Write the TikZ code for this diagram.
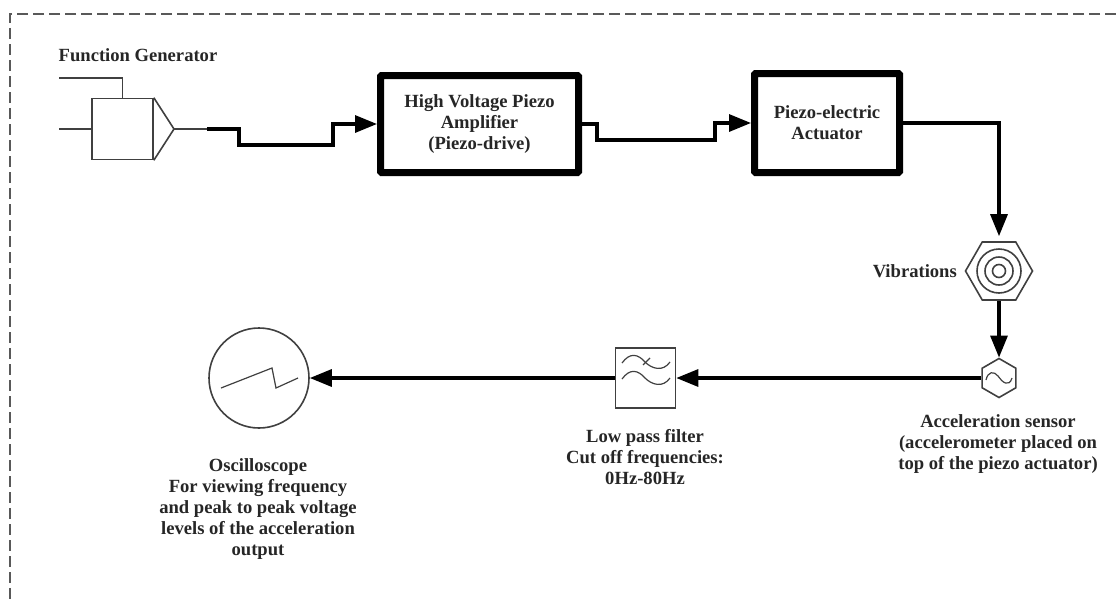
\documentclass[tikz,border=0pt]{standalone}
\usepackage{fontspec}
\setmainfont{Liberation Serif}
\usepackage{tikz}
\usetikzlibrary{arrows.meta,shapes.geometric}

\tikzset{
    thinline/.style={draw=black!75,line width=1.6pt},
    fineline/.style={draw=black!75,line width=1.2pt},
    labeltext/.style={align=center,inner sep=0pt,font=\fontsize{18.6pt}{21pt}\selectfont\bfseries,text=black!85},
    heavybox/.style={labeltext,draw=black,line width=7pt,rounded corners=1pt},
    signal/.style={draw=black,line width=3.2pt,-{Triangle[length=22pt,width=17pt]}}
}

\begin{document}
\begin{tikzpicture}[x=1pt,y=-1pt]
    \useasboundingbox (0,0) rectangle (1116,603);
    \draw[draw=black!65,line width=1.4pt,dash pattern=on 11pt off 5pt] (1116,14) -- (10,14) -- (10,603);
    % function generator
    \node[thinline,minimum size=61pt,inner sep=0pt] (gen) at (122.5,129) {};
    \coordinate (gentip) at (174,129);
    \coordinate (genin) at (59,129);
    \coordinate (genctl) at (59,78);
    \coordinate (genout) at (207,129);
    \draw[thinline] (gen.north east) -- (gentip) -- (gen.south east);
    \draw[thinline] (genin) -- (gen.west);
    \draw[thinline] (genctl) -| (gen.north);
    \draw[thinline] (gentip) -- (genout);
    \node[labeltext] (genlabel) at (138,55) {Function Generator};
    % boxes
    \node[heavybox,minimum width=198pt,minimum height=97pt] (amp) at (479.5,124) {High Voltage Piezo\\Amplifier\\(Piezo-drive)};
    \node[heavybox,minimum width=145pt,minimum height=99pt] (act) at (827,123) {Piezo-electric\\Actuator};
    % vibrations and sensor
    \node[thinline,regular polygon,regular polygon sides=6,minimum size=67pt,inner sep=0pt] (vib) at (999,271) {};
    \node[thinline,circle,minimum size=44pt,inner sep=0pt] (vibc) at (vib.center) {};
    \node[thinline,circle,minimum size=28pt,inner sep=0pt] (vibb) at (vib.center) {};
    \node[thinline,circle,minimum size=13pt,inner sep=0pt] (viba) at (vib.center) {};
    \node[thinline,regular polygon,regular polygon sides=6,shape border rotate=30,minimum size=39pt,inner sep=0pt] (sens) at (999,378) {};
    \draw[fineline] (986,380) .. controls (988,371) and (994,371) .. (998,376) .. controls (1002,382) and (1009,388) .. (1012,378);
    % filter
    \node[thinline,minimum size=60pt,inner sep=0pt] (filt) at (645.5,378) {};
    \draw[fineline] (622,363) .. controls (630,352) and (638,354) .. (645,362) .. controls (652,369) and (663,372) .. (670,362);
    \draw[fineline] (622,379) .. controls (630,368) and (638,370) .. (645,378) .. controls (652,385) and (663,388) .. (670,378);
    \draw[fineline] (643,365) -- (650,358);
    % scope
    \node[thinline,circle,minimum size=100pt,inner sep=0pt] (scope) at (259,378) {};
    \draw[fineline] (221,388) -- (272,368) -- (276,388) -- (298,378);
    % signal path
    \draw[signal] (genout) -- ++(32,0) -- ++(0,16) -- ++(94,0) |- (amp.west);
    \draw[signal] (amp.east) -- ++(15,0) -- ++(0,16) -- ++(118,0) |- (act.west);
    \draw[signal,shorten >=5pt] (act.east) -| (vib.north);
    \draw[signal] (vib.south) -- (sens.north);
    \draw[signal] (sens.west) -- (filt.east);
    \draw[signal] (filt.west) -- (scope.east);
    % labels
    \node[labeltext,anchor=east] (viblabel) at (957,271) {Vibrations};
    \node[labeltext] (senslabel) at (998,444) {Acceleration sensor\\(accelerometer placed on\\top of the piezo actuator)};
    \node[labeltext] (filtlabel) at (645,457) {Low pass filter\\Cut off frequencies:\\0Hz-80Hz};
    \node[labeltext] (scopelabel) at (258,509) {Oscilloscope\\For viewing frequency\\and peak to peak voltage\\levels of the acceleration\\output};
\end{tikzpicture}
\end{document}
